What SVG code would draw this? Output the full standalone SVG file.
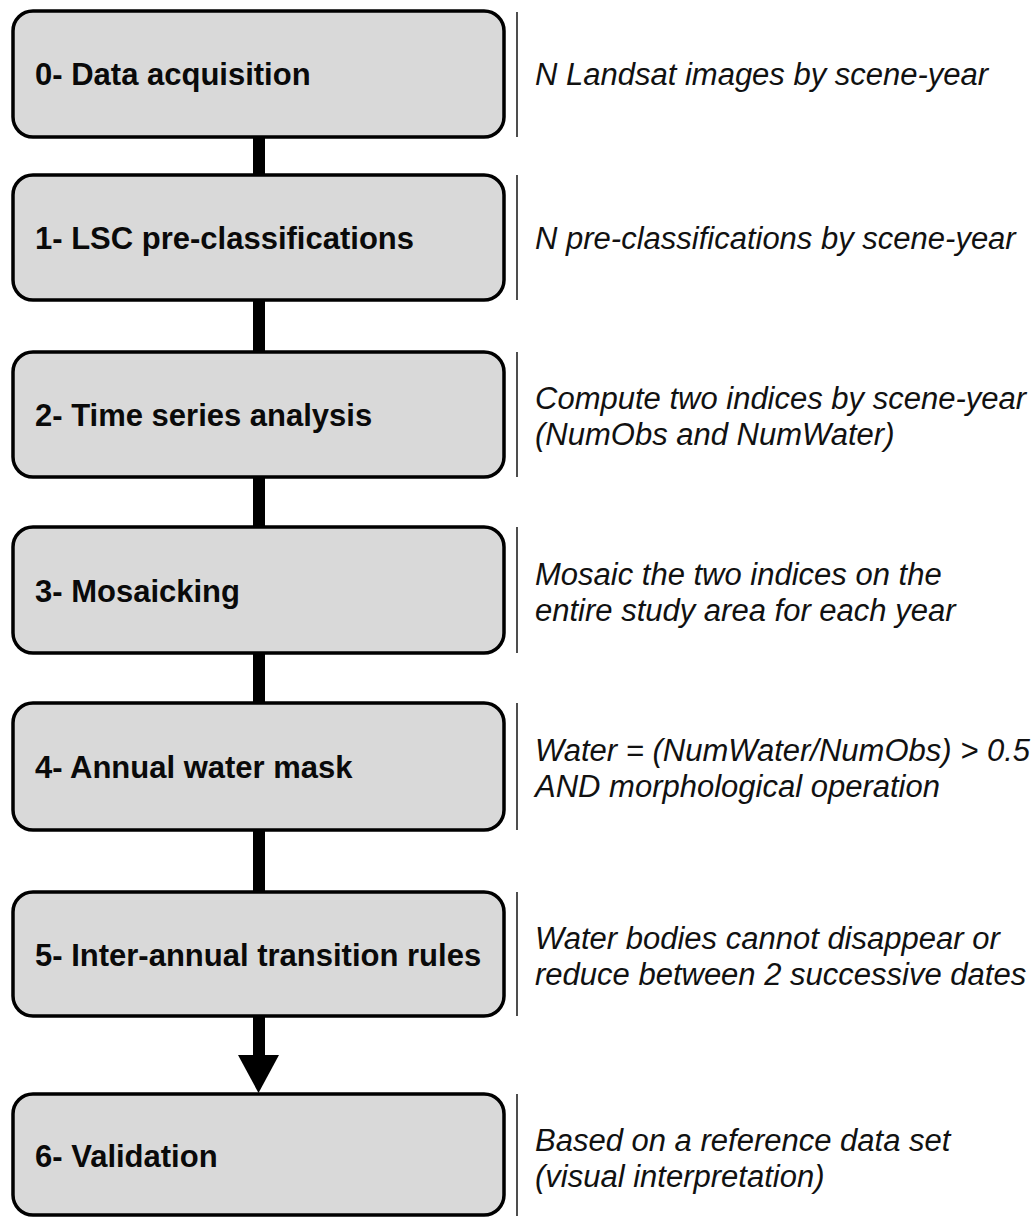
<svg xmlns="http://www.w3.org/2000/svg" width="1033" height="1218" viewBox="0 0 1033 1218">
<style>
.box{fill:#d9d9d9;stroke:#000;stroke-width:3.5}
.lbl{font-family:"Liberation Sans",Arial,sans-serif;font-weight:bold;font-size:31px;fill:#0a0a0a}
.desc{font-family:"Liberation Sans",Arial,sans-serif;font-style:italic;font-size:31px;fill:#111}
.div{stroke:#222;stroke-width:1.6}
.conn{fill:#000}
</style>
<rect width="1033" height="1218" fill="#fff"/>
<g id="connectors">
<rect class="conn" x="253" y="137" width="12" height="38"/>
<rect class="conn" x="253" y="300" width="12" height="52"/>
<rect class="conn" x="253" y="477" width="12" height="50"/>
<rect class="conn" x="253" y="653" width="12" height="50"/>
<rect class="conn" x="253" y="830" width="12" height="62"/>
<rect class="conn" x="253" y="1016" width="12" height="40"/>
<polygon class="conn" points="238,1055 279,1055 258.5,1093"/>
</g>
<g id="node0">
<rect class="box" x="13" y="11" width="491" height="126" rx="20"/>
<text class="lbl" x="35" y="85">0- Data acquisition</text>
<line class="div" x1="517" y1="12" x2="517" y2="137"/>
<text class="desc" x="535" y="85">N Landsat images by scene-year</text>
</g>
<g id="node1">
<rect class="box" x="13" y="175" width="491" height="125" rx="20"/>
<text class="lbl" x="35" y="249">1- LSC pre-classifications</text>
<line class="div" x1="517" y1="175" x2="517" y2="300"/>
<text class="desc" x="535" y="249">N pre-classifications by scene-year</text>
</g>
<g id="node2">
<rect class="box" x="13" y="352" width="491" height="125" rx="20"/>
<text class="lbl" x="35" y="426">2- Time series analysis</text>
<line class="div" x1="517" y1="352" x2="517" y2="477"/>
<text class="desc" x="535" y="409">Compute two indices by scene-year</text>
<text class="desc" x="535" y="445">(NumObs and NumWater)</text>
</g>
<g id="node3">
<rect class="box" x="13" y="527" width="491" height="126" rx="20"/>
<text class="lbl" x="35" y="602">3- Mosaicking</text>
<line class="div" x1="517" y1="527" x2="517" y2="653"/>
<text class="desc" x="535" y="585">Mosaic the two indices on the</text>
<text class="desc" x="535" y="621">entire study area for each year</text>
</g>
<g id="node4">
<rect class="box" x="13" y="703" width="491" height="127" rx="20"/>
<text class="lbl" x="35" y="778">4- Annual water mask</text>
<line class="div" x1="517" y1="703" x2="517" y2="830"/>
<text class="desc" x="535" y="761">Water = (NumWater/NumObs) &gt; 0.5</text>
<text class="desc" x="535" y="797">AND morphological operation</text>
</g>
<g id="node5">
<rect class="box" x="13" y="892" width="491" height="124" rx="20"/>
<text class="lbl" x="35" y="966">5- Inter-annual transition rules</text>
<line class="div" x1="517" y1="892" x2="517" y2="1016"/>
<text class="desc" x="535" y="949">Water bodies cannot disappear or</text>
<text class="desc" x="535" y="985">reduce between 2 successive dates</text>
</g>
<g id="node6">
<rect class="box" x="13" y="1094" width="491" height="121" rx="20"/>
<text class="lbl" x="35" y="1167">6- Validation</text>
<line class="div" x1="517" y1="1094" x2="517" y2="1216"/>
<text class="desc" x="535" y="1151">Based on a reference data set</text>
<text class="desc" x="535" y="1187">(visual interpretation)</text>
</g>
</svg>
